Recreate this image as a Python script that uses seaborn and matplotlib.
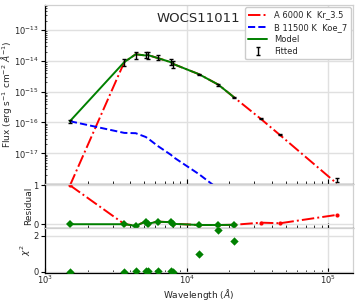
import matplotlib
matplotlib.use("Agg")
import matplotlib.pyplot as plt
import matplotlib.gridspec as gridspec
import seaborn as sns

# photometry (Angstrom, erg s-1 cm-2 A-1)
wave = [1500, 3630, 4370, 5140, 5310, 6250, 7765, 8050,
        12250, 16750, 21600, 33500, 45700, 115000]
flux = [1.1e-16, 9.1e-15, 1.57e-14, 1.6e-14, 1.57e-14, 1.32e-14, 9.5e-15, 8.0e-15,
        3.6e-15, 1.66e-15, 6.5e-16, 1.35e-16, 4.0e-17, 1.38e-18]
flux_err = [1.3e-17, 2.3e-15, 3.9e-15, 4.0e-15, 3.9e-15, 2.6e-15, 1.9e-15, 2.0e-15,
            1.8e-16, 8.3e-17, 3.3e-17, 6.8e-18, 2.0e-18, 2.1e-19]

# component models at every filter
flux_A = [9e-19, 9.05e-15, 1.63e-14, 1.49e-14, 1.55e-14, 1.23e-14, 9.0e-15, 7.9e-15,
          3.67e-15, 1.69e-15, 6.6e-16, 1.3e-16, 3.9e-17, 1.05e-18]
flux_B = [1.1e-16, 4.6e-17, 4.5e-17, 3.4e-17, 3.1e-17, 1.74e-17, 8.9e-18, 7.6e-18,
          2.1e-18, 7e-19, 2.5e-19, 5e-20, 1.7e-20, 1e-21]

# fitted filters only (first 11)
wave_fit = [1500, 3630, 4370, 5140, 5310, 6250, 7765, 8050, 12250, 16750, 21600]
flux_model = [1.1e-16, 9.1e-15, 1.63e-14, 1.49e-14, 1.55e-14, 1.23e-14, 9.0e-15, 7.9e-15,
              3.67e-15, 1.69e-15, 6.6e-16]
resid_model = [0.0, 0.0, -0.04, 0.066, 0.01, 0.066, 0.05, 0.01, -0.02, -0.02, -0.015]
resid_A = [1.0, 0.005, -0.037, 0.068, 0.012, 0.067, 0.051, 0.011,
           -0.02, -0.02, -0.015, 0.04, 0.025, 0.24]
chi2 = [0.0, 0.0, 0.03, 0.06, 0.02, 0.05, 0.03, 0.01, 0.98, 2.28, 1.72]

flux_ticks = [1e-17, 1e-16, 1e-15, 1e-14, 1e-13]
label_A = "A 6000 K  Kr_3.5"
label_B = "B 11500 K  Koe_7"
star = "WOCS11011"

sns.set_style("whitegrid", {"grid.color": "#e0e0e0", "axes.edgecolor": "#d0d0d0"})
plt.rcParams["font.family"] = ["DejaVu Sans"]

fig = plt.figure(figsize=(3.57, 3.02), dpi=100)
gs = gridspec.GridSpec(3, 1, height_ratios=[4, 1, 1], hspace=0,
                       left=0.126, right=0.988, top=0.983, bottom=0.097)
ax1 = fig.add_subplot(gs[0])
ax2 = fig.add_subplot(gs[1], sharex=ax1)
ax3 = fig.add_subplot(gs[2], sharex=ax1)

for ax in (ax1, ax2, ax3):
    ax.set_xscale("log")
ax1.set_yscale("log")

# --- SED panel ---
sns.lineplot(x=wave, y=flux_A, ax=ax1, color="r", linestyle="-.", lw=1.4,
             estimator=None, sort=False, label=label_A, zorder=2)
sns.lineplot(x=wave, y=flux_B, ax=ax1, color="b", linestyle="--", lw=1.4,
             estimator=None, sort=False, label=label_B, zorder=2)
sns.lineplot(x=wave_fit, y=flux_model, ax=ax1, color="g", lw=1.4,
             estimator=None, sort=False, label="Model", zorder=3)
ax1.errorbar(wave, flux, yerr=flux_err, fmt="none", ecolor="k", elinewidth=1,
             capsize=1.5, capthick=1, label="Fitted", zorder=4)

ax1.set_xlim(1e3, 1.49e5)
ax1.set_ylim(1.05e-18, 6.4e-13)
ax1.set_yticks(flux_ticks)
ax1.set_ylabel(r"Flux (erg s$^{-1}$ cm$^{-2}$ $\AA^{-1}$)", fontsize=6.5)
ax1.yaxis.set_label_coords(-0.1, 0.5)
ax1.text(0.5, 0.927, star, transform=ax1.transAxes, ha="center", va="center",
         fontsize=9.5)
h, l = ax1.get_legend_handles_labels()
ax1.legend(h, l, loc="upper right", fontsize=6, handlelength=2.3,
           labelspacing=0.38, borderaxespad=0.25, edgecolor="#cccccc",
           framealpha=1)

# --- residual panel ---
sns.lineplot(x=wave, y=resid_A, ax=ax2, color="r", linestyle="-.", lw=1.4,
             marker="o", markersize=3, markeredgewidth=0,
             estimator=None, sort=False, legend=False, zorder=2)
sns.lineplot(x=wave_fit, y=resid_model, ax=ax2, color="g", lw=1.4,
             marker="D", markersize=4, markeredgewidth=0,
             estimator=None, sort=False, legend=False, zorder=3)
ax2.set_ylim(-0.1, 1.045)
ax2.set_yticks([0, 1])
ax2.set_ylabel("Residual", fontsize=6.5)
ax2.yaxis.set_label_coords(-0.038, 0.5)

# --- chi2 panel ---
sns.scatterplot(x=wave_fit, y=chi2, ax=ax3, color="g", marker="D", s=18,
                linewidth=0, legend=False, zorder=3)
ax3.set_ylim(-0.055, 2.41)
ax3.set_yticks([0, 2])
ax3.set_ylabel(r"$\chi^2$", fontsize=6.5)
ax3.yaxis.set_label_coords(-0.038, 0.5)
ax3.set_xlabel(r"Wavelength ($\AA$)", fontsize=6.5, labelpad=0.5)

for ax in (ax1, ax2, ax3):
    ax.grid(True, which="major", color="#e0e0e0", lw=1.0)
    ax.grid(False, which="minor")
    ax.tick_params(axis="x", which="both", direction="in", bottom=True,
                   labelsize=6, color="k", pad=1)
    ax.tick_params(axis="x", which="major", length=3.5, width=0.8)
    ax.tick_params(axis="x", which="minor", length=2, width=0.6)
    ax.tick_params(axis="y", which="major", direction="out", left=True,
                   labelsize=6, length=3, width=0.8, color="k", pad=1.5)
    ax.tick_params(axis="y", which="minor", direction="in", left=True,
                   length=1.5, width=0.5, color="k")
    for side in ("left", "bottom"):
        ax.spines[side].set_color("k")
        ax.spines[side].set_linewidth(0.9)
    for side in ("top", "right"):
        ax.spines[side].set_color("#d0d0d0")
        ax.spines[side].set_linewidth(0.9)

ax1.tick_params(axis="x", which="both", labelbottom=False)
ax2.tick_params(axis="x", which="both", labelbottom=False)

fig.savefig("out.png", dpi=100)
plt.close(fig)
